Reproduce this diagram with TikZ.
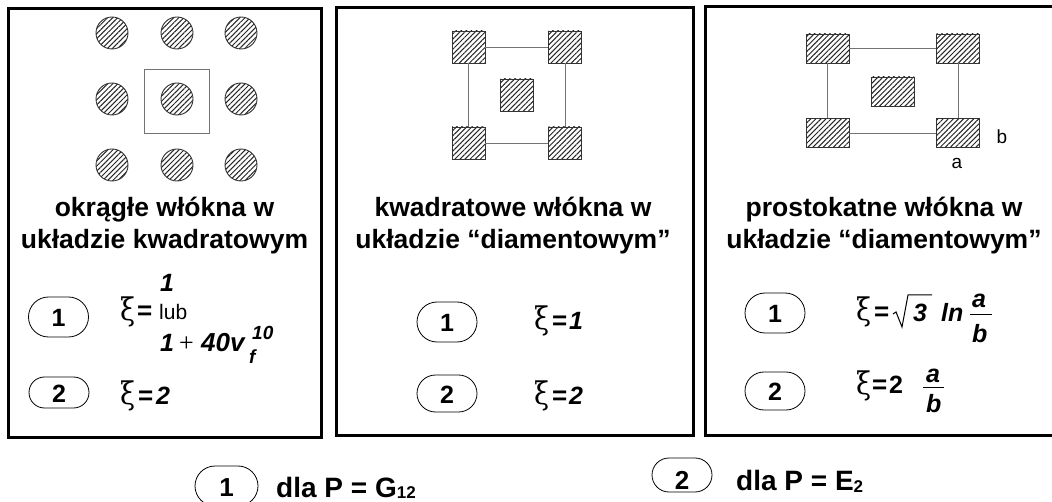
\documentclass[tikz,border=0pt]{standalone}
\usepackage{fontspec}
\setmainfont{Liberation Sans}
\newfontfamily\grk{Liberation Serif}
\newfontfamily\grkd{DejaVu Serif}
\usetikzlibrary{patterns.meta,shapes.misc}
\newcommand{\xiglyph}{\scalebox{1.05}[1.2]{ξ}}
\tikzset{
 frame/.style={draw, line width=3pt},
 fib/.style={draw=black!80, line width=0.9pt, pattern={Lines[angle=45,distance=3.6pt,line width=1pt]}, pattern color=black!85},
 cfib/.style={fib, circle, inner sep=0pt, minimum size=32pt},
 sqfib/.style={fib, inner sep=0pt, minimum width=33pt, minimum height=32pt},
 recfib/.style={fib, inner sep=0pt, minimum width=43pt, minimum height=29pt},
 cell/.style={draw=black!55, line width=0.8pt},
 pill/.style={draw, rounded rectangle, line width=0.8pt, inner sep=0pt, minimum width=60pt, minimum height=40pt},
 pnum/.style={inner sep=0pt, font=\fontsize{25}{25}\selectfont\bfseries},
 title/.style={anchor=base, inner sep=0pt, font=\fontsize{26.5}{30}\selectfont\bfseries},
 xi/.style={anchor=base west, inner sep=0pt, font=\fontsize{26}{26}\selectfont\grkd},
 eq/.style={anchor=base west, inner sep=0pt, font=\fontsize{26}{26}\selectfont\bfseries},
 bi/.style={anchor=base west, inner sep=0pt, font=\fontsize{25}{25}\selectfont\bfseries\itshape},
 sm/.style={anchor=base west, inner sep=0pt, font=\fontsize{19}{19}\selectfont\bfseries\itshape},
 lbl/.style={inner sep=0pt, font=\fontsize{19}{19}\selectfont},
 leg/.style={anchor=base west, inner sep=0pt, font=\fontsize{28}{28}\selectfont\bfseries},
}
\begin{document}
\begin{tikzpicture}[x=1pt,y=-1pt]
\useasboundingbox (0,0) rectangle (1052,502);
\fill[white] (0,0) rectangle (1052,502);
\clip (0,0) rectangle (1052,502);
% frames
\draw[frame] (8.5,8.5) rectangle (321.5,437.5);
\draw[frame] (336.5,8) rectangle (693.5,435.5);
\draw[frame] (705,6.5) rectangle (1066,435.5);
% panel 1 fibres
\draw[cell] (144,69) rectangle (209,133);
\foreach \i/\x in {1/112,2/177,3/241}{
  \foreach \j/\y in {1/33,2/99,3/165}{
    \node[cfib] (c\i\j) at (\x,\y) {};
  }
}
% panel 2 fibres
\node[sqfib] (s1) at (468.5,47) {};
\node[sqfib] (s2) at (565,47) {};
\node[sqfib] (s3) at (468.5,143) {};
\node[sqfib] (s4) at (565,143) {};
\node[sqfib] (s5) at (517,95) {};
\draw[cell] (s1.east) -- (s2.west);
\draw[cell] (s3.east) -- (s4.west);
\draw[cell] (s1.south) -- (s3.north);
\draw[cell] (s2.south) -- (s4.north);
% panel 3 fibres
\node[recfib] (r1) at (827.5,48.5) {};
\node[recfib] (r2) at (958,48.5) {};
\node[recfib] (r3) at (827.5,133) {};
\node[recfib] (r4) at (958,133) {};
\node[recfib] (r5) at (892.5,91.5) {};
\draw[cell] (r1.east) -- (r2.west);
\draw[cell] (r3.east) -- (r4.west);
\draw[cell] (r1.south) -- (r3.north);
\draw[cell] (r2.south) -- (r4.north);
\node[lbl] (lb) at (1002,137) {b};
\node[lbl] (la) at (957,163) {a};
% titles
\node[title] (t1a) at (164.5,217) {okrągłe włókna w};
\node[title] (t1b) at (164.5,249) {układzie kwadratowym};
\node[title] (t2a) at (513,217) {kwadratowe włókna w};
\node[title] (t2b) at (513,249) {układzie “diamentowym”};
\node[title] (t3a) at (884,217) {prostokatne włókna w};
\node[title] (t3b) at (884,249) {układzie “diamentowym”};
% panel 1 formulas
\node[pill] (p11) at (58.5,317) {};
\node[pnum] (n11) at (58.5,318) {1};
\node[pill, minimum height=31pt] (p12) at (59,392.5) {};
\node[pnum] (n12) at (59,394) {2};
\node[xi] (x11) at (120,321) {\xiglyph};
\node[eq] (e11) at (137,320) {=};
\node[anchor=base west, inner sep=0pt, font=\fontsize{21}{21}\selectfont] (lub) at (159,320) {lub};
\node[bi] (f11) at (160,292) {1};
\node[bi] (f12) at (160,352) {1};
\node[anchor=base west, inner sep=0pt, font=\fontsize{26}{26}\selectfont\grk] (pl) at (179,352) {+};
\node[bi, font=\fontsize{26}{26}\selectfont\bfseries\itshape] (f13) at (201,352) {40v};
\node[sm] (f14) at (252,340) {10};
\node[sm] (f15) at (249,363) {f};
\node[xi] (x12) at (120,405) {\xiglyph};
\node[eq] (e12) at (138,405) {=};
\node[bi] (f16) at (156,405) {2};
% panel 2 formulas
\node[pill] (p21) at (447,322) {};
\node[pnum] (n21) at (447,323) {1};
\node[pill, minimum height=37pt] (p22) at (447,393.5) {};
\node[pnum] (n22) at (447,395) {2};
\node[xi] (x21) at (534,330) {\xiglyph};
\node[eq] (e21) at (552,330) {=};
\node[bi] (f21) at (569,330) {1};
\node[xi] (x22) at (534,405) {\xiglyph};
\node[eq] (e22) at (552,405) {=};
\node[bi] (f22) at (569,405) {2};
% panel 3 formulas
\node[pill] (p31) at (775,313) {};
\node[pnum] (n31) at (775,314) {1};
\node[pill, minimum height=38pt] (p32) at (775,391) {};
\node[pnum] (n32) at (775,392) {2};
\node[xi] (x31) at (856,321) {\xiglyph};
\node[eq] (e31) at (874,321) {=};
\draw[line width=1pt] (893,314) -- (896,312) -- (902,327) -- (908,295) -- (932,295);
\node[bi] (f31) at (913,322) {3};
\node[bi] (f32) at (941,322) {ln};
\node[bi] (f33) at (972,308) {a};
\draw[line width=1.2pt] (970,314.5) -- (992,314.5);
\node[bi] (f34) at (972,343) {b};
\node[xi] (x32) at (856,395) {\xiglyph};
\node[eq] (e32) at (872,394) {=};
\node[bi, font=\fontsize{25}{25}\selectfont\bfseries] (f35) at (889,393) {2};
\node[bi] (f36) at (926,382) {a};
\draw[line width=1.2pt] (923,387.5) -- (944,387.5);
\node[bi] (f37) at (926,413) {b};
% legend
\node[pill, minimum width=63pt] (q1) at (226.5,486) {};
\node[pnum, font=\fontsize{26}{26}\selectfont\bfseries] (m1) at (226.5,488) {1};
\node[leg] (g1) at (276,497) {dla P = G\raisebox{-1.5pt}{\fontsize{17}{17}\selectfont 12}};
\node[pill, minimum height=34pt] (q2) at (682,475) {};
\node[pnum, font=\fontsize{26}{26}\selectfont\bfseries] (m2) at (682,480) {2};
\node[leg] (g2) at (736,490) {dla P = E\raisebox{-2pt}{\fontsize{17}{17}\selectfont 2}};
\end{tikzpicture}
\end{document}
